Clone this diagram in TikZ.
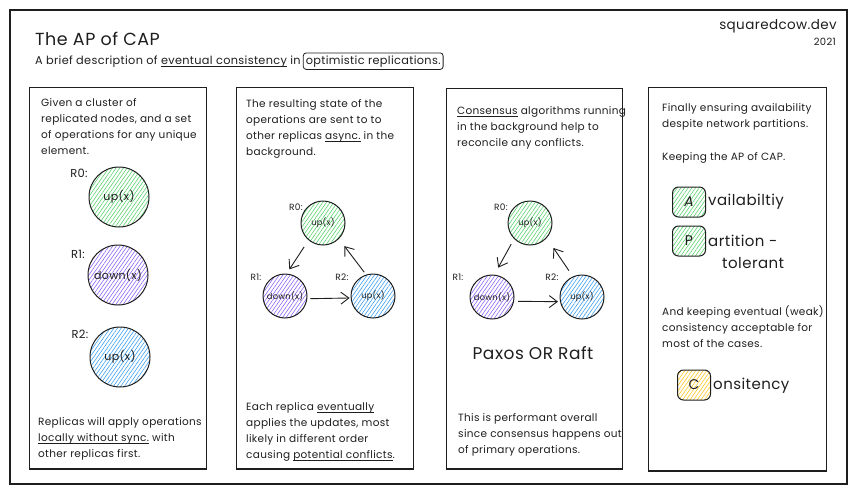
\documentclass[tikz,border=0pt]{standalone}
\usepackage{fontspec}
\setmainfont{Poppins}[LetterSpace=3]
\usetikzlibrary{arrows.meta,patterns.meta,calc}
\definecolor{hgreen}{HTML}{51CF66}
\definecolor{hviolet}{HTML}{845EF7}
\definecolor{hblue}{HTML}{339AF0}
\definecolor{hyellow}{HTML}{FCC419}
\definecolor{ink}{HTML}{1E1E1E}
\newcommand\myul[1]{\setbox0\hbox{#1}\rlap{\rule[-3pt]{\wd0}{1pt}}\box0\relax}
\begin{document}
\begin{tikzpicture}[x=1pt,y=-1pt,
  every node/.style={text=ink},
  frame/.style={draw=ink, line width=1.6pt},
  panel/.style={draw=ink, line width=0.9pt},
  panelbase/.style={draw=ink, line width=1.7pt},
  body/.style={font=\fontsize{10.5}{16}\selectfont, align=left, inner sep=0pt, anchor=north west},
  lbl/.style={font=\fontsize{11.5}{13}\selectfont, inner sep=0pt},
  slbl/.style={font=\fontsize{9}{11}\selectfont, inner sep=0pt},
  bigcirc/.style={circle, draw=ink, line width=1pt, minimum size=60pt, inner sep=0pt, font=\fontsize{11}{13}\selectfont},
  smallcirc/.style={circle, draw=ink, line width=1pt, minimum size=44pt, inner sep=0pt, font=\fontsize{8.3}{10}\selectfont},
  hatch/.style={pattern={Lines[angle=55,distance=3pt,line width=0.55pt]}, pattern color=#1},
  arr/.style={draw=ink, line width=0.9pt, -{Straight Barb[length=8pt,width=12pt,line width=0.9pt]}},
  letterbox/.style={draw=ink, rounded corners=6pt, minimum width=33pt, minimum height=30pt, inner sep=0pt, line width=1pt, font=\fontsize{14}{16}\selectfont},
  bigtxt/.style={font=\fontsize{15}{18}\selectfont, inner sep=0pt, anchor=west}
]
\useasboundingbox (0,0) rectangle (857,496);

% outer frame
\draw[frame] (10,10) rectangle (847,484);

% header
\node[font=\fontsize{17.5}{20}\selectfont, anchor=base west, inner sep=0pt] (title) at (35,45) {The AP of CAP};
\node[font=\fontsize{11.3}{13}\selectfont, anchor=base west, inner sep=0pt] (sub) at (35,64) {A brief description of \myul{eventual consistency} in};
\node[font=\fontsize{11.3}{13}\selectfont, anchor=base west, draw=ink, line width=0.8pt, rounded corners=3pt, inner sep=2.5pt] (optbox) at ($(sub.base east)+(2,0)$) {optimistic replications.};
\node[font=\fontsize{13.5}{16}\selectfont, anchor=base east, inner sep=0pt] (site) at (837,29) {squaredcow.dev};
\node[font=\fontsize{10}{12}\selectfont, anchor=base east, inner sep=0pt] (year) at (836,45) {2021};

% panels
\draw[panel] (29,87) rectangle (206,469);
\draw[panelbase] (29,469) -- (206,469);
\draw[panel] (236,87) rectangle (413,469);
\draw[panelbase] (236,469) -- (413,469);
\draw[panel] (446,88) rectangle (622,469);
\draw[panelbase] (446,469) -- (622,469);
\draw[panel] (648,87) rectangle (826,471);
\draw[panelbase] (648,471) -- (826,471);

% panel 1
\node[body] (t1) at (41,98) {Given a cluster of\\replicated nodes, and a set\\of operations for any unique\\element.};
\node[lbl] (l10) at (79,173) {R0:};
\node[bigcirc, hatch=hgreen] (c10) at (119,197) {up(x)};
\node[lbl] (l11) at (78,254) {R1:};
\node[bigcirc, hatch=hviolet] (c11) at (118,275) {down(x)};
\node[lbl] (l12) at (80,334) {R2:};
\node[bigcirc, hatch=hblue] (c12) at (120,357) {up(x)};
\node[body] (b1) at (38,417) {Replicas will apply operations\\\myul{locally without sync.} with\\other replicas first.};

% panel 2
\node[body] (t2) at (246,99) {The resulting state of the\\operations are sent to to\\other replicas \myul{async.} in the\\background.};
\node[slbl] (l20) at (296,207) {R0:};
\node[smallcirc, hatch=hgreen] (c20) at (323,223) {up(x)};
\node[slbl] (l21) at (256,277) {R1:};
\node[smallcirc, hatch=hviolet] (c21) at (285,296) {down(x)};
\node[slbl] (l22) at (342,277) {R2:};
\node[smallcirc, hatch=hblue] (c22) at (373,296) {up(x)};
\draw[arr, shorten <=8pt, shorten >=5pt] (c20.230) -- (c21.86);
\draw[arr, shorten <=3pt, shorten >=9pt] (c22.108) -- (c20.315);
\draw[arr, shorten <=3pt, shorten >=1pt] (c21.353) -- (c22.185);
\node[body] (b2) at (246,402) {Each replica \myul{eventually}\\applies the updates, most\\likely in different order\\causing \myul{potential conflicts}.};

% panel 3
\node[body] (t3) at (457,106) {\myul{Consensus} algorithms running\\in the background help to\\reconcile any conflicts.};
\node[slbl] (l30) at (501,207) {R0:};
\node[smallcirc, hatch=hgreen] (c30) at (530,223) {up(x)};
\node[slbl] (l31) at (458,277) {R1:};
\node[smallcirc, hatch=hviolet] (c31) at (492,297) {down(x)};
\node[slbl] (l32) at (552,277) {R2:};
\node[smallcirc, hatch=hblue] (c32) at (582,297) {up(x)};
\draw[arr, shorten <=6pt, shorten >=8pt] (c30.225) -- (c31.84);
\draw[arr, shorten <=7pt, shorten >=12pt] (c32.114) -- (c30.318);
\draw[arr, shorten <=4pt, shorten >=2pt] (c31.349) -- (c32.192);
\node[font=\fontsize{17}{20}\selectfont, inner sep=0pt] (paxos) at (533,353) {Paxos OR Raft};
\node[body] (b3) at (458,413) {This is performant overall\\since consensus happens out\\of primary operations.};

% panel 4
\node[body] (t4) at (662,103) {Finally ensuring availability\\despite network partitions.};
\node[body] (k4) at (662,152) {Keeping the AP of CAP.};
\node[letterbox, hatch=hgreen] (boxa) at (689,202) {\itshape A};
\node[bigtxt] (avail) at (708,202) {vailabiltiy};
\node[letterbox, hatch=hgreen] (boxp) at (689,241) {P};
\node[bigtxt] (part) at (708,241) {artition -};
\node[bigtxt] (tol) at (722,263) {tolerant};
\node[body] (b4) at (662,305) {And keeping eventual (weak)\\consistency acceptable for\\most of the cases.};
\node[letterbox, hatch=hyellow] (boxc) at (694,385) {C};
\node[bigtxt] (cons) at (713,386) {onsitency};
\end{tikzpicture}
\end{document}
